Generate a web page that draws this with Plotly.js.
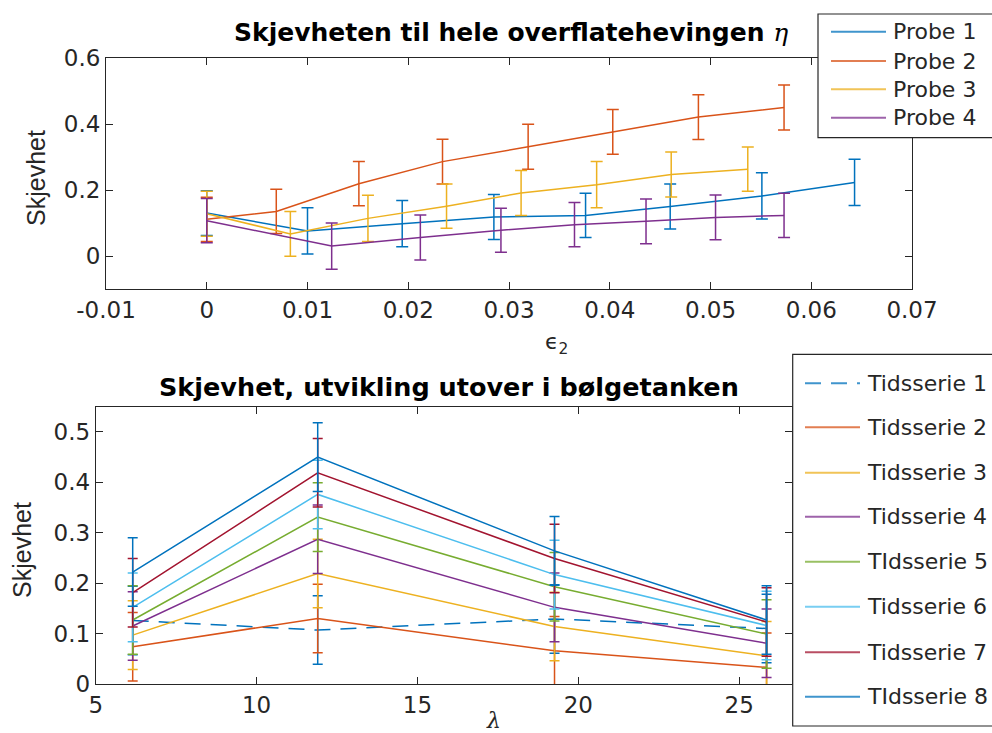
<!DOCTYPE html>
<html>
<head>
<meta charset="utf-8">
<script src="https://cdn.plot.ly/plotly-3.0.1.min.js"></script>
<style>html,body{margin:0;padding:0;background:#fff;}#chart{width:992px;height:733px;}</style>
</head>
<body>
<div id="chart"></div>
<script>
// ---------- DATA: top panel (skewness vs epsilon_2) ----------
const probeNames = ["Probe 1", "Probe 2", "Probe 3", "Probe 4"];
const probe1X = [0, 0.0100, 0.0194, 0.0285, 0.0376, 0.0460, 0.0551, 0.0643];
const probe1Y = [0.130, 0.076, 0.098, 0.118, 0.123, 0.150, 0.182, 0.223];
const probe1E = [0.068, 0.070, 0.070, 0.068, 0.067, 0.068, 0.070, 0.070];
const probe2X = [0, 0.0069, 0.0151, 0.0234, 0.0319, 0.0403, 0.0488, 0.0573];
const probe2Y = [0.111, 0.135, 0.219, 0.286, 0.331, 0.376, 0.421, 0.450];
const probe2E = [0.067, 0.067, 0.067, 0.068, 0.068, 0.068, 0.068, 0.068];
const probe3X = [0, 0.0083, 0.0160, 0.0238, 0.0312, 0.0387, 0.0461, 0.0537];
const probe3Y = [0.128, 0.067, 0.114, 0.151, 0.191, 0.216, 0.247, 0.263];
const probe3E = [0.068, 0.068, 0.070, 0.067, 0.068, 0.070, 0.068, 0.067];
const probe4X = [0, 0.0124, 0.0212, 0.0292, 0.0365, 0.0436, 0.0505, 0.0573];
const probe4Y = [0.107, 0.030, 0.056, 0.078, 0.095, 0.105, 0.117, 0.123];
const probe4E = [0.067, 0.070, 0.068, 0.067, 0.067, 0.068, 0.068, 0.067];
const topXTicks = [-0.01, 0, 0.01, 0.02, 0.03, 0.04, 0.05, 0.06, 0.07];
const topXTickText = ["-0.01", "0", "0.01", "0.02", "0.03", "0.04", "0.05", "0.06", "0.07"];
const topYTicks = [0, 0.2, 0.4, 0.6];
const topYTickText = ["0", "0.2", "0.4", "0.6"];

// ---------- DATA: bottom panel (skewness vs lambda) ----------
const seriesNames = ["Tidsserie 1", "Tidsserie 2", "Tidsserie 3", "Tidsserie 4",
                     "TIdsserie 5", "Tidsserie 6", "Tidsserie 7", "TIdsserie 8"];
const lambdaX = [6.15, 11.9, 19.26, 25.85];
const ts1 = [0.126, 0.107, 0.129, 0.110];
const ts2 = [0.074, 0.130, 0.066, 0.033];
const ts3 = [0.097, 0.219, 0.114, 0.056];
const ts4 = [0.115, 0.287, 0.152, 0.081];
const ts5 = [0.127, 0.331, 0.193, 0.099];
const ts6 = [0.152, 0.376, 0.217, 0.116];
const ts7 = [0.181, 0.419, 0.249, 0.123];
const ts8 = [0.222, 0.450, 0.264, 0.127];
const tsErr = [0.068, 0.068, 0.068, 0.068];
const botXTicks = [5, 10, 15, 20, 25];
const botYTicks = [0, 0.1, 0.2, 0.3, 0.4, 0.5];
const botYTickText = ["0", "0.1", "0.2", "0.3", "0.4", "0.5"];

// ---------- STYLE ----------
const W = 992, H = 733;
const px = v => v / W;
const py = v => 1 - v / H;
const C = ["#0072BD", "#D95319", "#EDB120", "#7E2F8E", "#77AC30", "#4DBEEE", "#A2142F", "#0072BD"];
const INK = "#262626";
const SANS = "DejaVu Sans";

const traces = [];
const topSets = [[probe1X, probe1Y, probe1E], [probe2X, probe2Y, probe2E], [probe3X, probe3Y, probe3E], [probe4X, probe4Y, probe4E]];
topSets.forEach((s, i) => {
  traces.push({
    type: "scatter", mode: "lines", x: s[0], y: s[1], name: probeNames[i],
    xaxis: "x", yaxis: "y", showlegend: false,
    line: {color: C[i], width: 1.5},
    error_y: {type: "data", array: s[2], visible: true, color: C[i], thickness: 1.5, width: 6}
  });
});
const botSets = [ts1, ts2, ts3, ts4, ts5, ts6, ts7, ts8];
botSets.forEach((s, i) => {
  traces.push({
    type: "scatter", mode: "lines", x: lambdaX, y: s, name: seriesNames[i],
    xaxis: "x2", yaxis: "y2", showlegend: false,
    line: {color: C[i], width: 1.5, dash: i === 0 ? "16px,10px" : "solid"},
    error_y: {type: "data", array: tsErr, visible: true, color: C[i], thickness: 1.5, width: 5}
  });
});

const axBase = {
  showline: true, linecolor: INK, linewidth: 1, mirror: "ticks",
  ticks: "inside", ticklen: 7, tickwidth: 1, tickcolor: INK,
  showgrid: false, zeroline: false,
  tickfont: {family: SANS, size: 23, color: INK}
};

const shapes = [];
const annotations = [];

// legend boxes and samples
function legend(box, rows, lineX0, lineX1, textX, names, dashFirst) {
  shapes.push({type: "rect", xref: "paper", yref: "paper", layer: "above",
    x0: px(box[0]), x1: px(box[1]), y0: py(box[2]), y1: py(box[3]),
    fillcolor: "#ffffff", line: {color: INK, width: 1.2}});
  names.forEach((n, i) => {
    shapes.push({type: "line", xref: "paper", yref: "paper", layer: "above",
      x0: px(lineX0), x1: px(lineX1), y0: py(rows[i]), y1: py(rows[i]),
      opacity: 0.75,
      line: {color: C[i], width: 2, dash: (dashFirst && i === 0) ? "16px,10px" : "solid"}});
    annotations.push({xref: "paper", yref: "paper", x: px(textX), y: py(rows[i]),
      xanchor: "left", yanchor: "middle", showarrow: false, text: n,
      font: {family: SANS, size: 22, color: INK}});
  });
}
legend([818, 1010, 14, 137.7], [31.7, 61, 89.3, 117.7], 831, 886, 891, probeNames, false);
legend([792.7, 1010, 354.3, 726], [383.3, 427.3, 472.7, 516.7, 561.7, 606.7, 652.3, 696.7], 805, 860, 865, seriesNames, true);

// titles and axis labels
annotations.push({xref: "paper", yref: "paper", x: px(511), y: py(33), xanchor: "center", yanchor: "middle", showarrow: false,
  text: "<b>Skjevheten til hele overflatehevingen </b><span style=\"font-family:'DejaVu Serif';font-style:italic\">η</span>",
  font: {family: SANS, size: 25, color: "#000"}});
annotations.push({xref: "paper", yref: "paper", x: px(449), y: py(387), xanchor: "center", yanchor: "middle", showarrow: false,
  text: "<b>Skjevhet, utvikling utover i bølgetanken</b>",
  font: {family: SANS, size: 25.5, color: "#000"}});
annotations.push({xref: "paper", yref: "paper", x: px(556), y: py(343), xanchor: "center", yanchor: "middle", showarrow: false,
  text: "ϵ<sub>2</sub>", font: {family: SANS, size: 22, color: INK}});
annotations.push({xref: "paper", yref: "paper", x: px(493), y: py(720), xanchor: "center", yanchor: "middle", showarrow: false,
  text: "<i>λ</i>", font: {family: "DejaVu Serif", size: 22, color: INK}});
annotations.push({xref: "paper", yref: "paper", x: px(36), y: py(178), xanchor: "center", yanchor: "middle", showarrow: false,
  textangle: -90, text: "Skjevhet", font: {family: "Liberation Sans", size: 25, color: INK}});
annotations.push({xref: "paper", yref: "paper", x: px(22), y: py(550), xanchor: "center", yanchor: "middle", showarrow: false,
  textangle: -90, text: "Skjevhet", font: {family: "Liberation Sans", size: 25, color: INK}});

const layout = {
  width: W, height: H,
  margin: {l: 0, r: 0, t: 0, b: 0, pad: 0, autoexpand: false},
  paper_bgcolor: "#fff", plot_bgcolor: "#fff",
  showlegend: false,
  xaxis: Object.assign({}, axBase, {domain: [px(106), px(912)], anchor: "y", range: [-0.01, 0.07],
    tickmode: "array", tickvals: topXTicks, ticktext: topXTickText}),
  yaxis: Object.assign({}, axBase, {domain: [py(289), py(58)], anchor: "x", range: [-0.1, 0.6],
    tickmode: "array", tickvals: topYTicks, ticktext: topYTickText}),
  xaxis2: Object.assign({}, axBase, {domain: [px(95.7), px(792.3)], anchor: "y2", range: [5, 26.65],
    tickmode: "array", tickvals: botXTicks}),
  yaxis2: Object.assign({}, axBase, {domain: [py(684), py(406.7)], anchor: "x2", range: [0, 0.55],
    tickmode: "array", tickvals: botYTicks, ticktext: botYTickText}),
  shapes: shapes,
  annotations: annotations
};

Plotly.newPlot("chart", traces, layout, {displayModeBar: false, staticPlot: true});
</script>
</body>
</html>
